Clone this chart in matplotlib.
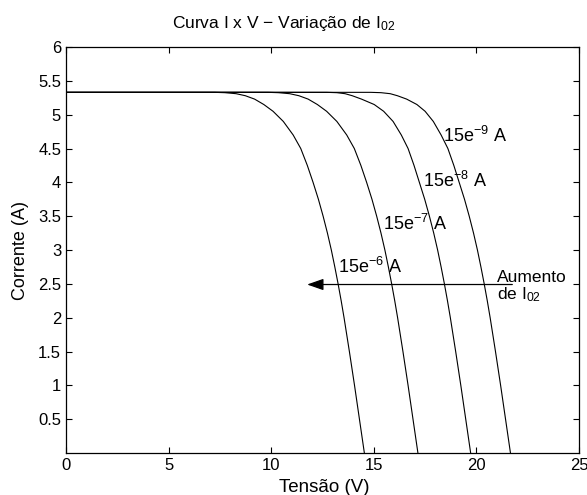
import matplotlib
matplotlib.use("Agg")
import matplotlib.pyplot as plt

plt.rcParams["font.family"] = ["Liberation Sans", "DejaVu Sans"]
plt.rcParams["mathtext.default"] = "regular"

# I-V curves for four values of the diode saturation current I02
labels = [r"15e$^{-6}$ A", r"15e$^{-7}$ A", r"15e$^{-8}$ A", r"15e$^{-9}$ A"]

# current samples shared by every curve (A)
i_pts = [5.33, 5.33, 5.325, 5.31, 5.28, 5.23, 5.15, 5.05, 4.9, 4.7, 4.5, 4.25,
         4.0, 3.75, 3.5, 3.25, 3.0, 2.75, 2.5, 2.25, 2.0, 1.5, 1.0, 0.5, 0.0]

# voltage of each curve at those currents (V)
v_1 = [0.0, 7.24, 7.74, 8.29, 8.74, 9.19, 9.64, 10.09, 10.59, 11.07, 11.44, 11.76,
       12.04, 12.30, 12.53, 12.74, 12.93, 13.10, 13.26, 13.41, 13.55, 13.81, 14.06, 14.30, 14.54]
v_2 = [0.0, 9.85, 10.35, 10.90, 11.35, 11.80, 12.25, 12.70, 13.20, 13.68, 14.05, 14.37,
       14.65, 14.91, 15.14, 15.35, 15.54, 15.71, 15.87, 16.02, 16.16, 16.42, 16.67, 16.91, 17.15]
v_3 = [0.0, 12.70, 13.20, 13.60, 13.95, 14.40, 15.02, 15.48, 15.94, 16.34, 16.67, 16.96,
       17.22, 17.48, 17.71, 17.92, 18.11, 18.28, 18.44, 18.59, 18.73, 18.99, 19.24, 19.48, 19.72]
v_4 = [0.0, 14.85, 15.35, 15.80, 16.15, 16.60, 17.10, 17.50, 17.90, 18.28, 18.61, 18.90,
       19.16, 19.42, 19.65, 19.86, 20.05, 20.22, 20.38, 20.53, 20.67, 20.93, 21.18, 21.42, 21.66]

curves = [v_1, v_2, v_3, v_4]
label_pos = [(13.27, 2.66), (15.46, 3.29), (17.41, 3.93), (18.39, 4.60)]

x_ticks = [0, 5, 10, 15, 20, 25]
y_ticks = [0.5, 1, 1.5, 2, 2.5, 3, 3.5, 4, 4.5, 5, 5.5, 6]
y_ticklabels = ["0.5", "1", "1.5", "2", "2.5", "3", "3.5", "4", "4.5", "5", "5.5", "6"]

fig = plt.figure(figsize=(5.87, 4.95), dpi=100)
ax = fig.add_axes([66 / 587, 42 / 495, 513 / 587, 406 / 495])

for v in curves:
    ax.plot(v, i_pts, color="black", lw=0.8, solid_joinstyle="round")

for text, (x, y) in zip(labels, label_pos):
    ax.text(x, y, text, fontsize=13, va="baseline", ha="left")

# arrow indicating increasing I02
ax.annotate("", xy=(11.75, 2.49), xytext=(21.75, 2.49),
            arrowprops=dict(arrowstyle="-|>,head_length=1.0,head_width=0.35",
                            color="black", lw=0.9, shrinkA=0, shrinkB=0,
                            mutation_scale=10))
ax.text(20.98, 2.52, "Aumento", fontsize=12.5, va="baseline", ha="left")
ax.text(20.98, 2.27, r"de I$_{02}$", fontsize=12.5, va="baseline", ha="left")

ax.set_xlim(0, 25)
ax.set_ylim(0, 6)
ax.set_xticks(x_ticks)
ax.set_xticklabels([str(t) for t in x_ticks])
ax.set_yticks(y_ticks)
ax.set_yticklabels(y_ticklabels)
ax.tick_params(direction="in", length=4.3, width=0.8, labelsize=12,
               top=True, right=True, pad=3.5)
for s in ax.spines.values():
    s.set_linewidth(0.9)

fig.text(284 / 587, 1 - 28 / 495, r"Curva I x V $-$ Variação de I$_{02}$",
         fontsize=12.5, ha="center", va="baseline")
fig.text(324 / 587, 1 - 492 / 495, "Tensão (V)", fontsize=13.5,
         ha="center", va="baseline")
fig.text(21 / 587, 1 - 250 / 495, "Corrente (A)", fontsize=13,
         ha="center", va="center", rotation=90)

fig.savefig("out.png", dpi=100)
